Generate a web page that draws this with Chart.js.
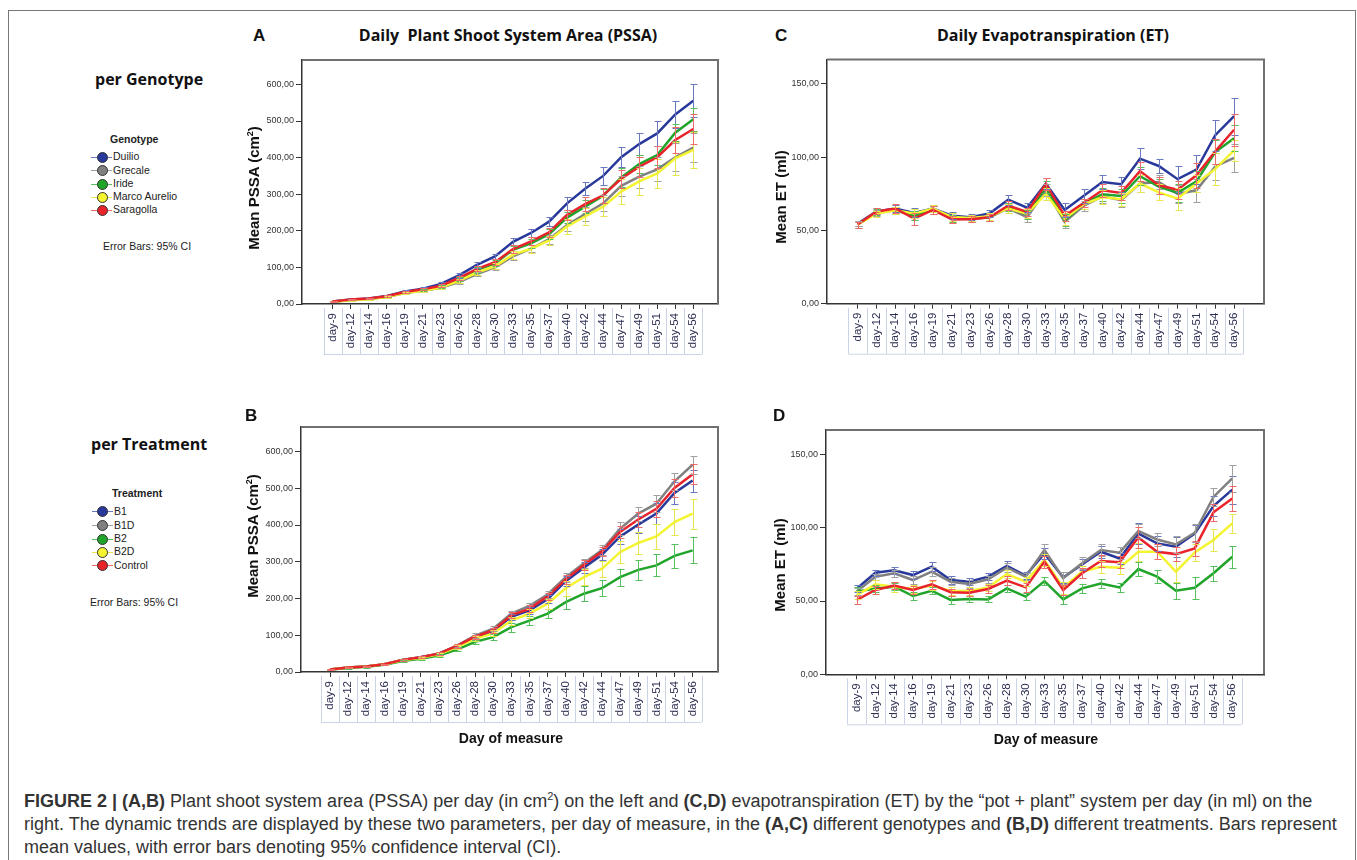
<!DOCTYPE html>
<html>
<head>
<meta charset="utf-8">
<script src="https://cdn.jsdelivr.net/npm/chart.js@4.4.0/dist/chart.umd.min.js"></script>
<style>
body { margin: 0; width: 1357px; height: 860px; overflow: hidden; background: #fff; position: relative; font-family: "Liberation Sans", Arial, sans-serif; color: #222; }
.abs { position: absolute; white-space: nowrap; }
.c { transform: translate(-50%, -50%); }
.v { transform: translate(-50%, -50%) rotate(-90deg); }
.panel { position: absolute; }
.letter { font-weight: bold; font-size: 17px; color: #111; }
.ptitle { font-family: "Open Sans", sans-serif; font-weight: bold; font-size: 16px; color: #111; }
.side { font-family: "Open Sans", sans-serif; font-weight: bold; font-size: 16px; color: #111; }
.axt { font-weight: bold; font-size: 15px; color: #111; }
.axt sup { font-size: 9px; }
.lgt { font-weight: bold; font-size: 10.5px; color: #222; }
.lgi { font-size: 10.5px; color: #222; }
.frame { position: absolute; left: 8px; top: 10px; width: 1346px; height: 900px; border: 1.5px solid #777; border-bottom: none; }
.cap { position: absolute; left: 24px; top: 785px; font-size: 18px; line-height: 23px; color: #333; white-space: nowrap; }
</style>
</head>
<body>
<div class="frame"></div>

<div class="panel" style="left:240px;top:50px;width:490px;height:320px"><canvas id="chA" width="490" height="320"></canvas></div>
<div class="panel" style="left:765px;top:50px;width:510px;height:320px"><canvas id="chC" width="510" height="320"></canvas></div>
<div class="panel" style="left:239px;top:417px;width:490px;height:320px"><canvas id="chB" width="490" height="320"></canvas></div>
<div class="panel" style="left:764px;top:420px;width:510px;height:320px"><canvas id="chD" width="510" height="320"></canvas></div>

<div class="abs letter" style="left:253px;top:26px">A</div>
<div class="abs ptitle c" style="left:508px;top:35px">Daily&nbsp; Plant Shoot System Area (PSSA)</div>
<div class="abs letter" style="left:775px;top:26px">C</div>
<div class="abs ptitle c" style="left:1053px;top:35px">Daily Evapotranspiration (ET)</div>
<div class="abs letter" style="left:245px;top:406px">B</div>
<div class="abs letter" style="left:773px;top:406px">D</div>

<div class="abs axt v" style="left:253px;top:188px">Mean PSSA (cm<sup>2</sup>)</div>
<div class="abs axt v" style="left:780px;top:197px">Mean ET (ml)</div>
<div class="abs axt v" style="left:252px;top:536px">Mean PSSA (cm<sup>2</sup>)</div>
<div class="abs axt v" style="left:779px;top:565px">Mean ET (ml)</div>
<div class="abs axt c" style="left:511px;top:738px;font-size:14px">Day of measure</div>
<div class="abs axt c" style="left:1046px;top:739px;font-size:14px">Day of measure</div>

<div class="abs side" style="left:95px;top:68px">per Genotype</div>
<div class="abs side" style="left:91px;top:433px">per Treatment</div>
<div id="legG"></div>
<div id="legT"></div>
<div class="abs lgi c" style="left:147px;top:246px">Error Bars: 95% CI</div>
<div class="abs lgi c" style="left:134px;top:602px">Error Bars: 95% CI</div>

<div class="cap"><b>FIGURE 2 | (A,B)</b> Plant shoot system area (PSSA) per day (in cm<sup style="font-size:11px">2</sup>) on the left and <b>(C,D)</b> evapotranspiration (ET) by the “pot + plant” system per day (in ml) on the<br>right. The dynamic trends are displayed by these two parameters, per day of measure, in the <b>(A,C)</b> different genotypes and <b>(B,D)</b> different treatments. Bars represent<br>mean values, with error bars denoting 95% confidence interval (CI).</div>

<script>
// Tage
const days = ['day-9','day-12','day-14','day-16','day-19','day-21','day-23','day-26','day-28','day-30','day-33','day-35','day-37','day-40','day-42','day-44','day-47','day-49','day-51','day-54','day-56'];

const genotypes = ['Duilio', 'Grecale', 'Iride', 'Marco Aurelio', 'Saragolla'];
const treatments = ['B1', 'B1D', 'B2', 'B2D', 'Control'];

const pssaTicks = [0, 100, 200, 300, 400, 500, 600];
const etTicks = [0, 50, 100, 150];

// A: PSSA per genotype
const pssaDuilio    = [7,12,15,22,34,42,55,78,107,130,170,194,225,275,315,350,401,437,466,518,555];
const pssaGrecale   = [6,11,14,19,30,36,44,60,82,100,130,151,177,216,246,275,323,348,368,401,427];
const pssaIride     = [6,11,14,20,31,38,48,68,93,111,148,166,191,236,266,296,346,382,407,468,505];
const pssaMarco     = [6,10,13,19,30,36,45,63,86,103,135,151,174,212,239,266,307,335,357,398,421];
const pssaSaragolla = [7,12,15,21,33,40,50,71,96,114,150,171,196,244,273,297,342,375,401,448,478];
const errDuilio    = [1,1.5,2,2.5,3,4,4,6,8,7,9,12,12,17,18,24,27,29,33,37,45];
const errGrecale   = [1,1.5,2,2,3,3,4,5,6,7,9,10,12,16,20,22,28,30,33,38,40];
const errIride     = [1,1.5,2,2,3,3,4,5,7,8,10,12,13,16,18,19,25,25,26,24,31];
const errMarco     = [1,1.5,2,2,3,3,4,5,7,8,11,11,13,20,22,25,34,37,40,45,50];
const errSaragolla = [1,1.5,2,2.5,3,3,4,6,7,8,10,11,12,14,20,20,25,28,30,35,40];

// C: ET per genotype
const etDuilio    = [54.7,63,65,62,65,60,59,61.5,71,65.5,82,64,73.5,83,81.5,99,94,85,91.5,115,128];
const etGrecale   = [54.7,62,63.8,60.4,65,57.6,58,59,65,59,77.4,55.8,66.7,73.3,70.6,82,83,75,77.4,93.7,99.6];
const etIride     = [54,62.6,63.8,60,64,58.3,58,59,66,61,79.6,57,68.3,74.7,73.5,87,80,75.6,83.5,103.5,113];
const etMarco     = [54,61.5,63.8,61.5,65,59.2,58.5,59.7,65,61.5,75,58,67.8,72.8,71.3,82,76,71.7,82,92,104.6];
const etSaragolla = [54,63,65,58,64,57.6,57.6,59,67,62.6,81.7,60,68.7,77.4,75.6,90.5,80.8,77.8,87.6,104,118.7];
const errEtDuilio    = [2,2,2.5,3,2.5,2.5,2,2.5,3.4,3,4,4.7,4.5,5,5,7,5,9,10,10.5,12.7];
const errEtGrecale   = [2,2,2.5,3,2.5,2.5,2,2.5,3,3,4,4,3.5,4.5,4.5,6,5,6,8,9,9.6];
const errEtIride     = [2,2,2.5,3,2.5,2.5,2,2.5,3,3,4,4,3.5,4.5,4.5,6,5,6,7,8,9];
const errEtMarco     = [2,2,2.5,3,2.5,2.5,2,2.5,3,3,4,4,3.5,4.5,4.5,6,5.5,7.5,6,11,7];
const errEtSaragolla = [2,2,3,4,3,2.5,2,2.5,3,3,4,3.5,3,4.5,5,6.5,5.6,6,8.5,8.5,11];

// B: PSSA per treatment
const pssaB1      = [7,12,15,21,33,40,50,70,94,112,150,168,198,247,284,319,369,401,431,487,521];
const pssaB1D     = [7,12,15,21,33,40,50,72,99,118,159,180,211,258,296,332,390,431,458,519,564];
const pssaB2      = [7,11,14,20,30,36,45,61,82,95,122,140,159,190,213,228,258,278,290,316,331];
const pssaB2D     = [7,12,15,21,32,39,48,68,90,105,140,159,186,228,258,281,326,351,369,408,431];
const pssaControl = [7,12,15,21,33,40,50,71,96,114,154,172,206,252,291,328,381,415,444,501,538];
const errB1      = [1,1.5,2,2,3,3,4,5,6,7,9,10,11,13,15,15,20,23,28,30,30];
const errB1D     = [1,1.5,2,2,3,3,4,5,6,7,8,8,9,12,12,14,17,19,23,23,25];
const errB2      = [1,1.5,2,2,3,3,4,5,6,8,12,12,12,18,21,21,23,28,30,33,35];
const errB2D     = [1,1.5,2,2,3,3,4,5,7,8,11,12,14,20,22,22,30,30,35,36,41];
const errControl = [1,1.5,2,2,3,3,4,5,6,7,8,9,10,12,13,13,17,20,22,24,27];

// D: ET per treatment
const etB1      = [58.4,69.3,71,67.7,73.4,64.3,63.2,66.6,74,67.3,82.5,66,75,83.6,79,96,89.3,87,96,114.8,126];
const etB1D     = [56.4,66.6,68.9,64.3,70,63.2,61.6,64.8,72.7,66.6,84.8,65.5,75.7,84.8,83,97.7,92,88.6,96.6,121,133.6];
const etB2      = [56.4,58.6,59.8,53.4,57,50.7,51.4,51.1,58.6,53,63.6,51.1,58.6,62,59.3,71.8,66.6,57,59,68.9,80.2];
const etB2D     = [54,61.4,59.8,58.2,60.5,56.8,56.8,59.3,68.4,63.2,78,59,70,73.4,72.7,83.6,83.6,70,83.2,91.6,103];
const etControl = [50.7,57.5,60.5,57.5,61.4,56,55.7,58.2,63.9,59.3,76.8,57.5,68.9,77.3,76.4,93.4,83.6,82,85.9,110.5,120];
const errEtB1      = [2.5,2,2.5,2.5,3,2.5,2.5,2.5,3,2.5,4,4,4,4,4,7,5,7,6,7,9.5];
const errEtB1D     = [2.5,2,2.5,2.5,3,2.5,2.5,2.5,3,2.5,4,4,4,4,4,5,4.6,6,6,6,9.5];
const errEtB2      = [3,2.5,2.5,2.5,2.5,2.5,2,2,2.5,2.5,3,3,3,3,3,4.5,4.5,5.5,7.5,5,7.5];
const errEtB2D     = [2.5,3,3.5,3,3,2.5,2.5,2.5,3,3,4,4,4,4,4,6,5,7,6,7.5,6.5];
const errEtControl = [2.5,2.5,2.5,3,3,2.5,2.5,2.5,3,3,4,3.5,3.5,4,4,7,5,5,5,6,8.4];

const farben = ['#28399b', '#808080', '#20a42a', '#f4f430', '#e8232b'];
const fehlerFarben = ['#6a78c0', '#a0a0a0', '#55c05c', '#e6e650', '#f06a6a'];

// Fehlerbalken (95% CI) zeichnen
const fehlerbalken = {
    id: 'fehlerbalken',
    afterDatasetsDraw(chart) {
        const ctx = chart.ctx;
        const y = chart.scales.y;
        chart.data.datasets.forEach((ds, i) => {
            const meta = chart.getDatasetMeta(i);
            ctx.save();
            ctx.strokeStyle = ds.errColor;
            ctx.lineWidth = 1;
            meta.data.forEach((pt, j) => {
                const v = ds.data[j].y, e = ds.err[j];
                const oben = Math.round(y.getPixelForValue(v + e)) + 0.5;
                const unten = Math.round(y.getPixelForValue(v - e)) + 0.5;
                const px = Math.round(pt.x) + 0.5;
                ctx.beginPath();
                ctx.moveTo(px, oben); ctx.lineTo(px, unten);
                ctx.moveTo(px - 3, oben); ctx.lineTo(px + 4, oben);
                ctx.moveTo(px - 3, unten); ctx.lineTo(px + 4, unten);
                ctx.stroke();
            });
            ctx.restore();
        });
    }
};

// Rahmen oben/rechts und Zellen unter den Achsenbeschriftungen
const rahmen = {
    id: 'rahmen',
    beforeDatasetsDraw(chart) {
        const ctx = chart.ctx, a = chart.chartArea, x = chart.scales.x;
        ctx.save();
        ctx.strokeStyle = '#707070';
        ctx.lineWidth = 2;
        ctx.beginPath();
        ctx.moveTo(a.left, a.top); ctx.lineTo(a.right, a.top); ctx.lineTo(a.right, a.bottom);
        ctx.stroke();
        ctx.strokeStyle = 'rgba(160,175,210,0.55)';
        ctx.lineWidth = 1;
        ctx.beginPath();
        for (let i = -1; i < days.length; i++) {
            const px = Math.round(x.getPixelForValue(i + 0.5)) + 0.5;
            ctx.moveTo(px, a.bottom + 4); ctx.lineTo(px, a.bottom + 50);
        }
        const l = x.getPixelForValue(-0.5), r = x.getPixelForValue(days.length - 0.5);
        ctx.moveTo(l, a.bottom + 50.5); ctx.lineTo(r, a.bottom + 50.5);
        ctx.stroke();
        ctx.restore();
    }
};

function zeichne(id, reihen, fehler, namen, yMax, yTicks, xMin, xMax, padTop, padRight, xHoehe) {
    const datasets = reihen.map((werte, i) => ({
        label: namen[i],
        data: werte.map((v, j) => ({ x: j, y: v })),
        err: fehler[i],
        errColor: fehlerFarben[i],
        borderColor: farben[i],
        borderWidth: 2.5,
        pointRadius: 0,
        tension: 0,
        fill: false,
        order: reihen.length - i,
    }));
    return new Chart(document.getElementById(id).getContext('2d'), {
        type: 'line',
        data: { datasets: datasets },
        options: {
            responsive: false,
            animation: false,
            devicePixelRatio: 1,
            layout: { padding: { top: padTop, right: padRight, left: 0, bottom: 0 } },
            plugins: { legend: { display: false }, tooltip: { enabled: false } },
            scales: {
                x: {
                    type: 'linear',
                    min: xMin,
                    max: xMax,
                    afterBuildTicks: (s) => { s.ticks = days.map((d, i) => ({ value: i })); },
                    afterFit: (s) => { s.height = xHoehe; },
                    ticks: {
                        callback: (v) => days[v],
                        minRotation: 90,
                        maxRotation: 90,
                        autoSkip: false,
                        padding: 4,
                        color: '#2c2e52',
                        font: { family: 'Liberation Sans', size: 11.5 },
                    },
                    grid: { drawOnChartArea: false, tickLength: 5, color: '#333' },
                    border: { color: '#333', width: 1.5 },
                },
                y: {
                    min: 0,
                    max: yMax,
                    afterBuildTicks: (s) => { s.ticks = yTicks.map((v) => ({ value: v })); },
                    afterFit: (s) => { s.width = 62; },
                    ticks: {
                        callback: (v) => v.toFixed(2).replace('.', ','),
                        color: '#333',
                        padding: 2,
                        font: { family: 'Liberation Sans', size: 9 },
                    },
                    grid: { drawOnChartArea: false, tickLength: 6, color: '#333' },
                    border: { color: '#333', width: 1.5 },
                },
            },
        },
        plugins: [rahmen, fehlerbalken],
    });
}

zeichne('chA', [pssaDuilio, pssaGrecale, pssaIride, pssaMarco, pssaSaragolla],
    [errDuilio, errGrecale, errIride, errMarco, errSaragolla], genotypes,
    666.67, pssaTicks, -1.70, 21.37, 10, 12, 66);
zeichne('chC', [etDuilio, etGrecale, etIride, etMarco, etSaragolla],
    [errEtDuilio, errEtGrecale, errEtIride, errEtMarco, errEtSaragolla], genotypes,
    166.67, etTicks, -1.63, 21.59, 9.5, 11, 66.3);
zeichne('chB', [pssaB1, pssaB1D, pssaB2, pssaB2D, pssaControl],
    [errB1, errB1D, errB2, errB2D, errControl], treatments,
    666.67, pssaTicks, -1.60, 21.40, 10, 11, 65);
zeichne('chD', [etB1, etB1D, etB2, etB2D, etControl],
    [errEtB1, errEtB1D, errEtB2, errEtB2D, errEtControl], treatments,
    166.67, etTicks, -1.63, 21.69, 10, 10, 65.7);

// Legenden links
function legende(ziel, titel, titelX, titelY, namen, yPos, kreisX, textX) {
    const box = document.getElementById(ziel);
    let html = '<div class="abs lgt" style="left:' + titelX + 'px;top:' + (titelY - 7) + 'px">' + titel + '</div>';
    namen.forEach((n, i) => {
        const y = yPos[i];
        html += '<div class="abs" style="left:' + (kreisX - 11) + 'px;top:' + (y - 0.5) + 'px;width:21px;height:1px;background:' + fehlerFarben[i] + '"></div>';
        html += '<div class="abs" style="left:' + (kreisX - 5.5) + 'px;top:' + (y - 5.5) + 'px;width:9px;height:9px;border-radius:50%;border:1px solid #333;background:' + farben[i] + '"></div>';
        html += '<div class="abs lgi" style="left:' + textX + 'px;top:' + (y - 7) + 'px">' + n + '</div>';
    });
    box.innerHTML = html;
}
legende('legG', 'Genotype', 110, 140, genotypes, [157, 170.5, 184, 197, 210], 102, 113);
legende('legT', 'Treatment', 112, 494, treatments, [511.5, 525.5, 539, 552, 565.5], 102.5, 114);
</script>
</body>
</html>
